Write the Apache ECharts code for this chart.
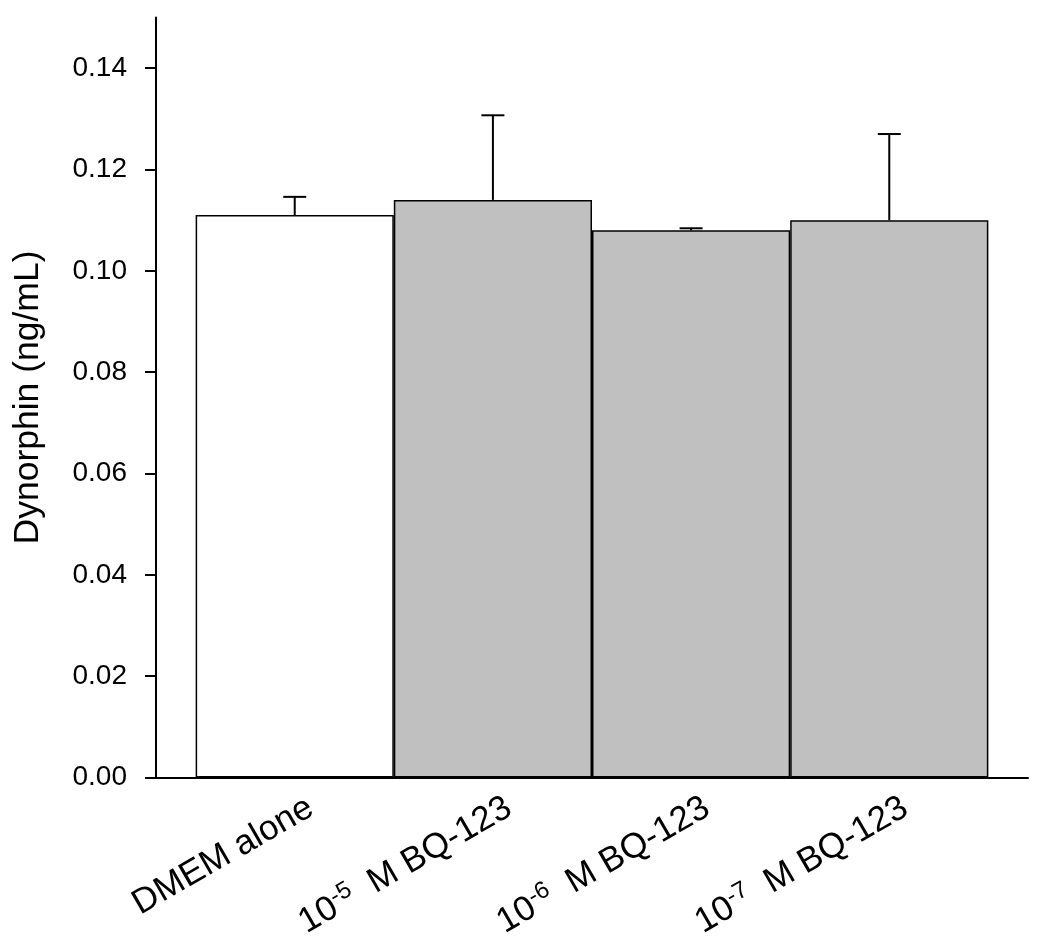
<!DOCTYPE html>
<html>
<head>
<meta charset="utf-8">
<script src="https://cdn.jsdelivr.net/npm/echarts@6/dist/echarts.min.js"></script>
<style>
html,body{margin:0;padding:0;background:#fff;}
#chart{width:1050px;height:948px;}
</style>
</head>
<body>
<div id="chart"></div>
<script>
// ---- data ----
var categories = ['DMEM alone', '10^-5 M BQ-123', '10^-6 M BQ-123', '10^-7 M BQ-123'];
var positions = [1, 2, 3, 4];
var means = [0.111, 0.114, 0.108, 0.110];
var errors = [0.0036, 0.0167, 0.0004, 0.0170];
var yTicks = [0, 0.02, 0.04, 0.06, 0.08, 0.10, 0.12, 0.14];
var yTitle = 'Dynorphin (ng/mL)';

// ---- styles ----
var FONT = '"Liberation Sans", Arial, Helvetica, sans-serif';
var barColors = ['#ffffff', '#c0c0c0', '#c0c0c0', '#c0c0c0'];
var gridLeft = 156, gridRight = 22, gridTop = 17.5, gridBottom = 170.5;
var xMin = 0.3, xMax = 4.7;
var plotW = 1050 - gridLeft - gridRight;
var barW = plotW / (xMax - xMin);
var labelShift = 16 / barW; // label anchor sits a little right of bar centre

function richLabel(s) {
  var m = s.match(/^(\d+)\^(-?\d+)\s*(.*)$/);
  if (!m) return '{n|' + s + '}';
  return '{n|' + m[1] + '}{sup|' + m[2] + '}{n|  ' + m[3] + '}';
}

var labelValues = positions.map(function (p) { return p + labelShift; });

var chart = echarts.init(document.getElementById('chart'), null, {renderer: 'canvas'});
var option = {
  animation: false,
  backgroundColor: '#ffffff',
  grid: {left: gridLeft, right: gridRight, top: gridTop, bottom: gridBottom, containLabel: false},
  xAxis: {
    type: 'value', min: xMin, max: xMax,
    splitLine: {show: false},
    axisLine: {show: true, onZero: false, lineStyle: {color: '#000', width: 2}},
    axisTick: {show: false},
    axisLabel: {
      customValues: labelValues,
      rotate: 30,
      margin: 28,
      formatter: function (v) {
        var best = -1, bd = 1e9;
        labelValues.forEach(function (lv, i) { var d = Math.abs(lv - v); if (d < bd) { bd = d; best = i; } });
        return bd < 0.01 ? richLabel(categories[best]) : '';
      },
      rich: {
        n: {fontFamily: FONT, fontSize: 35, color: '#000'},
        sup: {fontFamily: FONT, fontSize: 24, color: '#000', verticalAlign: 'top', padding: [0, 0, 16, 0]}
      }
    }
  },
  yAxis: {
    type: 'value', min: 0, max: 0.15,
    name: yTitle, nameLocation: 'middle', nameGap: 110,
    nameTextStyle: {fontFamily: FONT, fontSize: 35.5, color: '#000'},
    splitLine: {show: false},
    axisLine: {show: true, lineStyle: {color: '#000', width: 2}},
    axisTick: {show: true, customValues: yTicks, length: 11, lineStyle: {color: '#000', width: 2}},
    axisLabel: {
      customValues: yTicks, margin: 29,
      fontFamily: FONT, fontSize: 28, color: '#000',
      formatter: function (v) { return v.toFixed(2); }
    }
  },
  series: [
    {
      type: 'bar',
      barWidth: barW,
      data: positions.map(function (p, i) {
        return {value: [p, means[i]], itemStyle: {color: barColors[i]}};
      }),
      itemStyle: {borderColor: '#000', borderWidth: 1.5},
      z: 2
    },
    {
      type: 'custom',
      z: 3,
      data: positions.map(function (p, i) { return [p, means[i], means[i] + errors[i]]; }),
      renderItem: function (params, api) {
        var base = api.coord([api.value(0), api.value(1)]);
        var top = api.coord([api.value(0), api.value(2)]);
        var cap = 11.5;
        var st = {stroke: '#000', lineWidth: 2};
        return {
          type: 'group',
          children: [
            {type: 'line', shape: {x1: base[0], y1: base[1], x2: top[0], y2: top[1]}, style: st},
            {type: 'line', shape: {x1: top[0] - cap, y1: top[1], x2: top[0] + cap, y2: top[1]}, style: st}
          ]
        };
      }
    }
  ]
};
chart.setOption(option);
</script>
</body>
</html>
